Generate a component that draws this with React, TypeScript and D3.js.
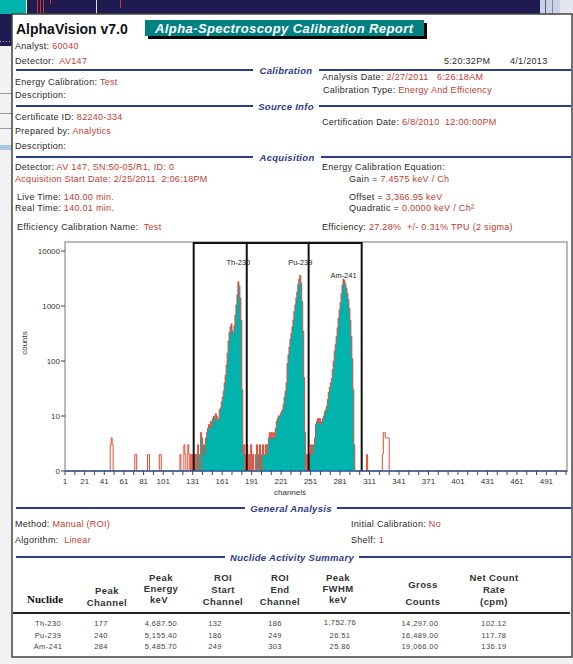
import React from "react";
import * as d3 from "d3";

// ---------- DATA ----------
const nuclides = ["Th-230", "Pu-239", "Am-241"];
const peakChannels = [177, 240, 284];
const peakEnergies = ["4,687.50", "5,155.40", "5,485.70"];
const roiStarts = [132, 186, 249];
const roiEnds = [186, 249, 303];
const fwhms = ["1,752.76", "26.51", "25.86"];
const grossCounts = ["14,297.00", "16,489.00", "19,066.00"];
const netRates = ["102.12", "117.78", "136.19"];

const yTickValues = [1, 10, 100, 1000, 10000];
const yTickLabels = ["0", "10", "100", "1000", "10000"];
const xTickLabels = [1, 21, 41, 61, 81, 101, 131, 161, 191, 221, 251, 281, 311, 341, 371, 401, 431, 461, 491];

// counts, channels 132..186
const thCounts = [
  0, 2, 1, 2, 3, 2, 1, 5, 4, 3, 2, 3, 4, 5, 6, 7, 6, 8, 7, 9,
  10, 9, 11, 10, 8, 9, 13, 14, 18, 22, 28, 40, 55, 85, 140, 230, 330, 420, 470, 360,
  320, 440, 680, 1050, 1600, 2750, 2300, 1400, 550, 30, 2, 3, 0, 2, 3,
];
// counts, channels 187..249
const puCounts = [
  0, 2, 0, 3, 0, 2, 0, 0, 2, 3, 0, 2, 3, 0, 2, 3, 2, 2, 3, 2,
  3, 4, 5, 4, 5, 4, 5, 4, 6, 8, 9, 10, 10, 11, 12, 13, 16, 22, 28, 40,
  90, 130, 180, 250, 320, 420, 560, 800, 1050, 1400, 1800, 2500, 3100, 3600, 2600, 1200, 350, 50, 5, 0,
  2, 0, 0,
];
// counts, channels 250..303
const amCounts = [
  2, 3, 2, 3, 3, 4, 7, 8, 9, 8, 9, 7, 8, 9, 10, 12, 13, 15, 20, 27,
  33, 40, 48, 70, 100, 150, 200, 280, 400, 600, 850, 1150, 1700, 2400, 3100, 2900, 2500, 2100, 1700, 1300,
  900, 550, 280, 110, 30, 3, 0, 0, 0, 0, 0, 0, 0, 0,
];
const noiseChannels = [47, 48, 49, 72, 73, 85, 86, 97, 98, 118, 122, 123, 126, 127, 129, 131, 308, 324, 325, 326, 327, 328, 329, 330];
const noiseCounts = [3, 4, 3, 2, 2, 2, 2, 2, 2, 2, 3, 2, 3, 2, 2, 2, 2, 2, 5, 5, 4, 4, 4, 4];

// ---------- STYLE ----------
const FONT = "Arial, 'Liberation Sans', Helvetica, sans-serif";
const LABEL = "#2a2a2a";
const VALUE = "#c23b32";
const NAVY = "#2e3a8c";
const TEAL = "#00b3ad";
const RED = "#ec4a36";

function Field({ x, y, label, value, labelColor = LABEL, size = 9 }: any) {
  return (
    <text x={x} y={y} fontFamily={FONT} fontSize={size} letterSpacing={0.3} fill={labelColor} style={{ whiteSpace: "pre" }}>
      {label}
      {value !== undefined && <tspan fill={VALUE}>{value}</tspan>}
    </text>
  );
}

function Section({ y, title, cx, half }: any) {
  return (
    <g>
      <line x1={16} x2={cx - half - 6} y1={y} y2={y} stroke={NAVY} strokeWidth={2} />
      <line x1={cx + half + 6} x2={571} y1={y} y2={y} stroke={NAVY} strokeWidth={2} />
      <text x={cx} y={y + 3.5} textAnchor="middle" fontFamily={FONT} fontStyle="italic" fontWeight="bold" fontSize={9.5} letterSpacing={0.3} fill={NAVY}>
        {title}
      </text>
    </g>
  );
}

export default function App() {
  const W = 573, H = 664;
  const plotL = 65, plotR = 567, plotT = 242, plotB = 471;

  const counts = new Array(512).fill(0);
  thCounts.forEach((c, i) => (counts[132 - 1 + i] = c));
  puCounts.forEach((c, i) => (counts[187 - 1 + i] = c));
  amCounts.forEach((c, i) => (counts[250 - 1 + i] = c));
  noiseChannels.forEach((ch, i) => (counts[ch - 1] = noiseCounts[i]));

  const x = d3.scaleLinear().domain([1, 512]).range([plotL, plotR]);
  const y = d3.scaleLog().domain([1, 14580]).range([plotB, plotT]).clamp(true);
  const yv = (v: number) => y(Math.max(v, 1));

  const all: [number, number][] = counts.map((c, i) => [i + 1, c]);
  all.push([513, 0]);
  const roiPts: [number, number][] = [];
  for (let ch = roiStarts[0]; ch <= roiEnds[2]; ch++) roiPts.push([ch, counts[ch - 1]]);
  roiPts.push([roiEnds[2] + 1, 0]);

  const area = d3.area<[number, number]>().x((d) => x(d[0])).y0(plotB).y1((d) => yv(d[1])).curve(d3.curveStepAfter);
  const line = d3.line<[number, number]>().x((d) => x(d[0])).y((d) => yv(d[1])).curve(d3.curveStepAfter);

  const minorTicks = d3.range(1, 512, 10);
  const labelY = [265, 265, 278];

  const colCenters = [48, 101, 161, 215, 275, 340, 420, 494];
  const rowY = [626, 638, 649];

  return (
    <svg width={W} height={H} style={{ position: "absolute", left: 0, top: 0 }} fontFamily={FONT}>
      {/* background behind the report page */}
      <rect x={0} y={0} width={W} height={H} fill="#f2f2f2" />
      <rect x={0} y={0} width={W} height={14} fill="#1f1a4f" />
      <rect x={0} y={0} width={26} height={14} fill={TEAL} />
      <line x1={26.5} x2={26.5} y1={0} y2={14} stroke="#fff" />
      <line x1={37.5} x2={37.5} y1={0} y2={14} stroke="#d03030" />
      <line x1={40.5} x2={40.5} y1={0} y2={14} stroke="#d03030" />
      <line x1={43.5} x2={43.5} y1={0} y2={14} stroke="#d03030" />
      <line x1={50.5} x2={50.5} y1={0} y2={4} stroke="#d03030" />
      <line x1={96.5} x2={96.5} y1={0} y2={14} stroke="#ddd" />
      <line x1={120.5} x2={120.5} y1={0} y2={8} stroke="#d03030" />
      <rect x={540} y={0} width={20} height={14} fill="#c8d4e6" />
      <line x1={545.5} x2={545.5} y1={0} y2={14} stroke="#556" />
      <line x1={552.5} x2={552.5} y1={0} y2={14} stroke="#889" />
      <rect x={560} y={0} width={13} height={14} fill="#e4e8ee" />
      <rect x={0} y={14} width={12} height={32} fill="#1f1a4f" />
      <line x1={0} x2={12} y1={41.5} y2={41.5} stroke="#aab" strokeDasharray="1 2" />
      <line x1={0} x2={12} y1={93.5} y2={93.5} stroke="#999" />
      <line x1={0} x2={12} y1={113.5} y2={113.5} stroke="#999" />
      <line x1={0} x2={12} y1={128.5} y2={128.5} stroke="#999" />
      <rect x={0} y={145} width={12} height={5} fill="#a8c8e8" />

      {/* page */}
      <rect x={12} y={14} width={560} height={643} fill="#fff" stroke="#444" strokeWidth={1.5} />

      {/* header */}
      <text x={16} y={34} fontSize={14} fontWeight="bold" fill="#111">AlphaVision v7.0</text>
      <rect x={148} y={23} width={279} height={16} fill="#000" />
      <rect x={145} y={20} width={279} height={16} fill="#008080" />
      <text x={155} y={33} fontSize={13} fontWeight="bold" fontStyle="italic" fill="#fff" textLength={258} lengthAdjust="spacing">
        Alpha-Spectroscopy Calibration Report
      </text>

      <Field x={15} y={49} label="Analyst: " value="60040" />
      <Field x={15} y={64} label="Detector:  " value="AV147" />
      <Field x={444} y={64} label="5:20:32PM" />
      <Field x={510} y={64} label="4/1/2013" />

      <Section y={70} title="Calibration" cx={286} half={27} />
      <Field x={15} y={85} label="Energy Calibration: " value="Test" />
      <Field x={15} y={98} label="Description:" />
      <Field x={322} y={80} label="Analysis Date: " value="2/27/2011   6:26:18AM" />
      <Field x={323} y={93} label="Calibration Type: " value="Energy And Efficiency" />

      <Section y={106} title="Source Info" cx={286} half={27} />
      <Field x={15} y={120} label="Certificate ID: " value="82240-334" />
      <Field x={15} y={134} label="Prepared by: " value="Analytics" />
      <Field x={15} y={149} label="Description:" />
      <Field x={322} y={125} label="Certification Date: " value="6/8/2010  12:00:00PM" />

      <Section y={157} title="Acquisition" cx={287} half={28} />
      <Field x={15} y={170} label="Detector: " value="AV 147, SN:50-05/R1, ID: 0" />
      <Field x={15} y={182} label="Acquisition Start Date: " labelColor={VALUE} value="2/25/2011  2:06:18PM" />
      <Field x={17} y={200} label="Live Time: " value="140.00 min." />
      <Field x={15} y={211} label="Real Time: " value="140.01 min." />
      <Field x={17} y={230} label="Efficiency Calibration Name:  " value="Test" />
      <Field x={322} y={170} label="Energy Calibration Equation:" />
      <Field x={349} y={182} label="Gain = " value="7.4575 keV / Ch" />
      <Field x={349} y={200} label="Offset = " value="3,366.95 keV" />
      <Field x={349} y={211} label="Quadratic = " value="0.0000 keV / Ch²" />
      <Field x={322} y={230} label="Efficiency: " value="27.28%  +/- 0.31% TPU (2 sigma)" />

      {/* chart */}
      <rect x={plotL} y={plotT} width={plotR - plotL} height={plotB - plotT} fill="#fff" stroke="#777" strokeWidth={1} />
      <path d={area(roiPts) || ""} fill={TEAL} />
      <path d={line(all) || ""} fill="none" stroke={RED} strokeWidth={1} />
      {/* ROI box */}
      <path
        d={`M${x(roiStarts[0])},${plotB} V${plotT + 1} H${x(roiEnds[2])} V${plotB}`}
        fill="none"
        stroke="#111"
        strokeWidth={2}
      />
      {roiEnds.slice(0, 2).map((ch, i) => (
        <line key={i} x1={x(ch)} x2={x(ch)} y1={plotT + 1} y2={plotB} stroke="#111" strokeWidth={2} />
      ))}
      {nuclides.map((n, i) => (
        <text key={n} x={x(peakChannels[i]) + 0.5} y={labelY[i]} textAnchor="middle" fontSize={7.5} fill="#222">
          {n}
        </text>
      ))}
      {/* x axis */}
      <line x1={plotL} x2={plotR} y1={plotB} y2={plotB} stroke="#2f64a8" strokeWidth={1.5} />
      {minorTicks.map((ch) => (
        <line key={ch} x1={x(ch)} x2={x(ch)} y1={plotB} y2={plotB + 4} stroke="#444" strokeWidth={1} />
      ))}
      {xTickLabels.map((ch) => (
        <text key={ch} x={x(ch)} y={484} textAnchor="middle" fontSize={8} fill="#333">
          {ch}
        </text>
      ))}
      <text x={290} y={495} textAnchor="middle" fontSize={8} fill="#333">channels</text>
      {/* y axis */}
      {yTickValues.map((v, i) => (
        <g key={v}>
          <line x1={plotL - 4} x2={plotL} y1={y(v)} y2={y(v)} stroke="#444" />
          <text x={60} y={y(v) + 3} textAnchor="end" fontSize={8} fill="#333">
            {yTickLabels[i]}
          </text>
        </g>
      ))}
      <text transform="translate(27,343) rotate(-90)" textAnchor="middle" fontSize={8} fill="#333">counts</text>

      <Section y={508} title="General Analysis" cx={291} half={40} />
      <Field x={15} y={527} label="Method: " value="Manual (ROI)" />
      <Field x={15} y={543} label="Algorithm:  " value="Linear" />
      <Field x={351} y={527} label="Initial Calibration: " value="No" />
      <Field x={351} y={543} label="Shelf: " value="1" />

      <Section y={557} title="Nuclide Activity Summary" cx={292} half={61} />

      {/* table header */}
      <text x={27} y={603} fontFamily="'Times New Roman', 'Liberation Serif', serif" fontWeight="bold" fontSize={11} fill="#111">
        Nuclide
      </text>
      <g fontSize={9.5} fontWeight="bold" fill="#333" textAnchor="middle" letterSpacing={0.4}>
        <text x={107} y={594}>Peak</text>
        <text x={107} y={606}>Channel</text>
        <text x={161} y={581}>Peak</text>
        <text x={161} y={592}>Energy</text>
        <text x={159} y={603}>keV</text>
        <text x={223} y={581}>ROI</text>
        <text x={223} y={593}>Start</text>
        <text x={223} y={605}>Channel</text>
        <text x={280} y={581}>ROI</text>
        <text x={280} y={593}>End</text>
        <text x={280} y={605}>Channel</text>
        <text x={338} y={581}>Peak</text>
        <text x={338} y={592}>FWHM</text>
        <text x={338} y={603}>keV</text>
        <text x={423} y={588}>Gross</text>
        <text x={423} y={605}>Counts</text>
        <text x={494} y={581}>Net Count</text>
        <text x={494} y={593}>Rate</text>
        <text x={494} y={605}>(cpm)</text>
      </g>
      <line x1={13} x2={570} y1={613} y2={613} stroke="#222" strokeWidth={2} />
      <g fontSize={7.5} fill="#444" textAnchor="middle" letterSpacing={0.4}>
        {nuclides.map((n, i) => {
          const cells = [n, String(peakChannels[i]), peakEnergies[i], String(roiStarts[i]), String(roiEnds[i]), fwhms[i], grossCounts[i], netRates[i]];
          return cells.map((c, j) => (
            <text key={`${i}-${j}`} x={colCenters[j]} y={rowY[i] - (j === 5 && i === 0 ? 1 : 0)}>
              {c}
            </text>
          ));
        })}
      </g>
    </svg>
  );
}
